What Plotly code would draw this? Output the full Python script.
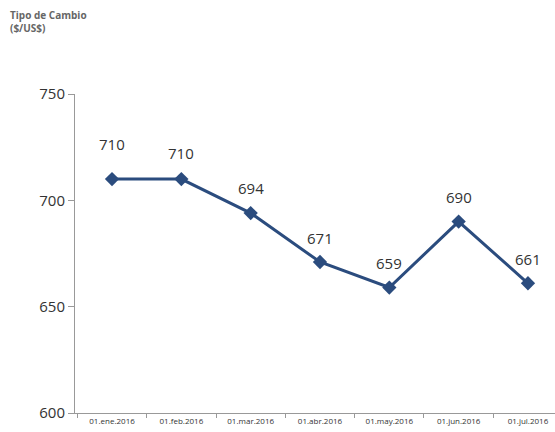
import plotly.graph_objects as go

fechas = ["01.ene.2016", "01.feb.2016", "01.mar.2016", "01.abr.2016",
          "01.may.2016", "01.jun.2016", "01.jul.2016"]
tipo_cambio = [710, 710, 694, 671, 659, 690, 661]
y_ticks = [600, 650, 700, 750]

fig = go.Figure()
fig.add_trace(go.Scatter(
    x=fechas, y=tipo_cambio, mode="lines+markers",
    line=dict(color="#2B4C7E", width=3),
    marker=dict(symbol="diamond", size=11, color="#2B4C7E"),
    cliponaxis=False,
))

# etiquetas de valor sobre los puntos (la primera algo mas alta, como en el original)
desplaz = [35, 26, 25, 24, 25, 25, 24]
for f, v, d in zip(fechas, tipo_cambio, desplaz):
    fig.add_annotation(x=f, y=v, text=str(v), showarrow=False, yshift=d,
                       font=dict(size=15, color="#333333", family="Open Sans"))

fig.add_annotation(
    text="<b>Tipo de Cambio<br>($/US$)</b>", xref="paper", yref="paper",
    x=(8 - 75) / 480, y=1 + 88 / 319, xanchor="left", yanchor="top",
    align="left", showarrow=False,
    font=dict(size=10, color="#666666", family="Open Sans"),
)

fig.update_layout(
    width=555, height=432,
    margin=dict(l=75, r=0, t=94, b=19, autoexpand=False),
    paper_bgcolor="white", plot_bgcolor="white",
    showlegend=False,
    font=dict(family="Open Sans", color="#333333"),
)
fig.update_xaxes(
    type="category", range=[-0.534, 6.39], automargin=False,
    showline=True, linecolor="#999999", linewidth=1,
    ticks="outside", tickson="boundaries", ticklen=4, tickcolor="#999999",
    tickfont=dict(size=8, color="#333333"), showgrid=False,
)
fig.update_yaxes(
    range=[600, 750], tickvals=y_ticks, automargin=False,
    showline=True, linecolor="#999999", linewidth=1,
    ticks="outside", ticklen=6, tickcolor="#999999",
    tickfont=dict(size=15, color="#333333"), showgrid=False, zeroline=False,
)

fig.write_html("out.html", config={"displayModeBar": False},
               post_script="document.body.style.margin='0';")
